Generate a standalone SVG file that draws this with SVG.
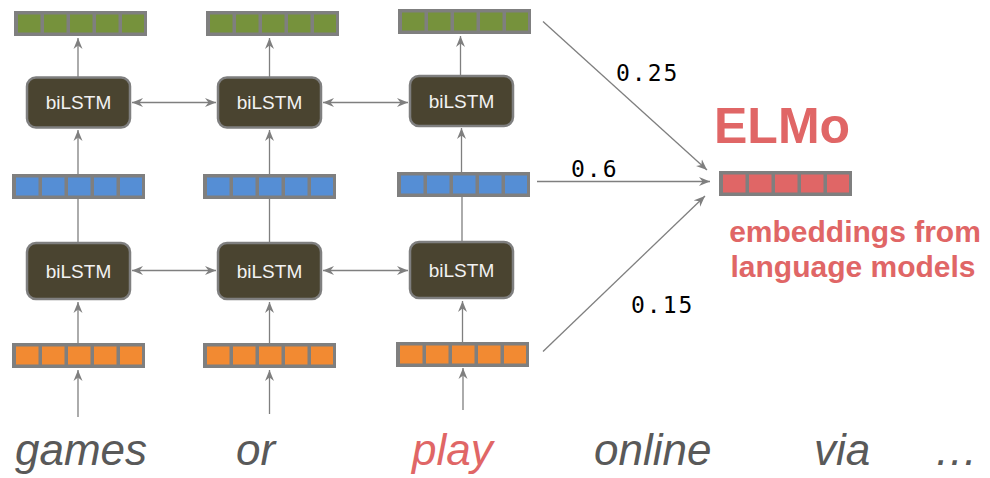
<svg xmlns="http://www.w3.org/2000/svg" xmlns:xlink="http://www.w3.org/1999/xlink" width="990" height="478" viewBox="0 0 990 478">
<style>
.box{fill:#4a4430;stroke:#7f7f7f;stroke-width:2.5}
.bt{font-family:"Liberation Sans",Arial,sans-serif;font-size:19px;fill:#f2f2f2;text-anchor:middle}
.ln{stroke:#7f7f7f;stroke-width:1.3;fill:none}
.ar{marker-end:url(#ah)}
.dar{marker-start:url(#ahs);marker-end:url(#ah)}
.w{font-family:"Liberation Sans",Arial,sans-serif;font-size:44px;font-style:italic;fill:#595959}
.num{font-family:"DejaVu Sans Mono","Liberation Mono",monospace;font-size:23px;letter-spacing:2px;fill:#000}
.red{fill:#e06666}
.g{color:#76923c}.b{color:#558ed5}.o{color:#f28a32}.r{color:#e06666}
</style>
<defs>
<marker id="ah" viewBox="0 0 12 10" refX="11" refY="5" markerWidth="12" markerHeight="10" markerUnits="userSpaceOnUse" orient="auto">
<path d="M0,0.5 L11,5 L0,9.5 L3.5,5 z" fill="#7f7f7f"/>
</marker>
<marker id="ahs" viewBox="0 0 12 10" refX="1" refY="5" markerWidth="12" markerHeight="10" markerUnits="userSpaceOnUse" orient="auto">
<path d="M12,0.5 L1,5 L12,9.5 L8.5,5 z" fill="#7f7f7f"/>
</marker>
<g id="vec">
<rect x="0" y="0" width="133" height="25" fill="#7f7f7f"/>
<rect x="4" y="3.5" width="22.5" height="18" fill="currentColor"/>
<rect x="30" y="3.5" width="22.5" height="18" fill="currentColor"/>
<rect x="56" y="3.5" width="22.5" height="18" fill="currentColor"/>
<rect x="82" y="3.5" width="22.5" height="18" fill="currentColor"/>
<rect x="108" y="3.5" width="22" height="18" fill="currentColor"/>
</g>
</defs>
<rect width="990" height="478" fill="#fff"/>

<g id="connectors">
<line class="ln ar" x1="78" y1="417" x2="78" y2="370"/>
<line class="ln ar" x1="78" y1="343" x2="78" y2="302"/>
<line class="ln ar" x1="78" y1="242" x2="78" y2="176"/>
<line class="ln ar" x1="78" y1="174" x2="78" y2="130"/>
<line class="ln ar" x1="78" y1="78" x2="78" y2="38"/>

<line class="ln ar" x1="269.5" y1="414" x2="269.5" y2="370"/>
<line class="ln ar" x1="269.5" y1="343" x2="269.5" y2="302"/>
<line class="ln ar" x1="269.5" y1="242" x2="269.5" y2="176"/>
<line class="ln ar" x1="269.5" y1="174" x2="269.5" y2="130"/>
<line class="ln ar" x1="269.5" y1="78" x2="269.5" y2="38"/>

<line class="ln ar" x1="463" y1="410" x2="463" y2="368"/>
<line class="ln ar" x1="462.5" y1="342" x2="462.5" y2="301"/>
<line class="ln ar" x1="462" y1="241" x2="462" y2="174"/>
<line class="ln ar" x1="461.5" y1="172" x2="461.5" y2="128"/>
<line class="ln ar" x1="460.5" y1="76" x2="460.5" y2="36"/>

<line class="ln dar" x1="132" y1="102.5" x2="216" y2="102.5"/>
<line class="ln dar" x1="323" y1="102.5" x2="408" y2="102.5"/>
<line class="ln dar" x1="132" y1="270.5" x2="216" y2="270.5"/>
<line class="ln dar" x1="323" y1="270.5" x2="408" y2="270.5"/>

<line class="ln ar" x1="543" y1="21.5" x2="707" y2="170"/>
<line class="ln ar" x1="537" y1="181.5" x2="710" y2="181.5"/>
<line class="ln ar" x1="543" y1="351.5" x2="705" y2="196"/>
</g>

<g id="col1-green" class="g"><use xlink:href="#vec" x="14" y="11"/></g>
<g id="col2-green" class="g"><use xlink:href="#vec" x="206" y="11"/></g>
<g id="col3-green" class="g"><use xlink:href="#vec" x="398" y="9"/></g>
<g id="col1-blue" class="b"><use xlink:href="#vec" x="12" y="174"/></g>
<g id="col2-blue" class="b"><use xlink:href="#vec" x="203" y="174"/></g>
<g id="col3-blue" class="b"><use xlink:href="#vec" x="397" y="172"/></g>
<g id="col1-orange" class="o"><use xlink:href="#vec" x="12" y="343"/></g>
<g id="col2-orange" class="o"><use xlink:href="#vec" x="203" y="343"/></g>
<g id="col3-orange" class="o"><use xlink:href="#vec" x="396" y="342"/></g>

<g id="lstm1-up"><rect class="box" x="27" y="77.5" width="103" height="50" rx="9"/><text class="bt" x="78.5" y="109">biLSTM</text></g>
<g id="lstm2-up"><rect class="box" x="218" y="77.5" width="103" height="50" rx="9"/><text class="bt" x="269.5" y="109">biLSTM</text></g>
<g id="lstm3-up"><rect class="box" x="410" y="76" width="103" height="50" rx="9"/><text class="bt" x="461.5" y="107.5">biLSTM</text></g>
<g id="lstm1-low"><rect class="box" x="27" y="243" width="103" height="56" rx="9"/><text class="bt" x="78.5" y="277.5">biLSTM</text></g>
<g id="lstm2-low"><rect class="box" x="218" y="243" width="103" height="56" rx="9"/><text class="bt" x="269.5" y="277.5">biLSTM</text></g>
<g id="lstm3-low"><rect class="box" x="410" y="242" width="103" height="56" rx="9"/><text class="bt" x="461.5" y="276.5">biLSTM</text></g>

<g id="weights">
<text class="num" x="616" y="81">0.25</text>
<text class="num" x="571" y="177">0.6</text>
<text class="num" x="631" y="313">0.15</text>
</g>

<g id="elmo">
<text x="714" y="143" font-family="Liberation Sans,Arial,sans-serif" font-size="50" font-weight="bold" class="red">ELMo</text>
<g class="r"><use xlink:href="#vec" x="719" y="171" height="26"/></g>
<text x="855" y="242" font-family="Liberation Sans,Arial,sans-serif" font-size="30" font-weight="bold" text-anchor="middle" class="red">embeddings from</text>
<text x="853" y="277" font-family="Liberation Sans,Arial,sans-serif" font-size="30" font-weight="bold" text-anchor="middle" class="red">language models</text>
</g>

<g id="words">
<text class="w" x="15" y="465">games</text>
<text class="w" x="236" y="465">or</text>
<text class="w red" x="412" y="465">play</text>
<text class="w" x="594" y="465">online</text>
<text class="w" x="814" y="465">via</text>
<text class="w" x="934" y="465">…</text>
</g>
</svg>
